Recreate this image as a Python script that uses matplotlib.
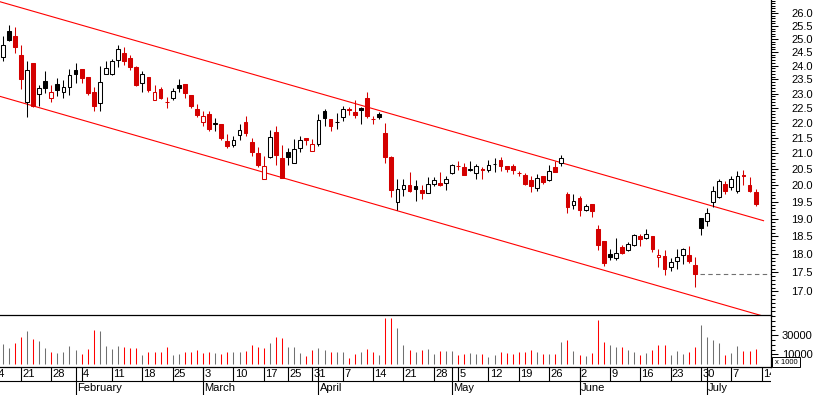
import matplotlib
matplotlib.use("Agg")
import matplotlib.pyplot as plt
from matplotlib.patches import Rectangle
from matplotlib.ticker import FixedLocator, FixedFormatter, NullFormatter
import numpy as np
import pandas as pd

plt.rcParams['font.family'] = ['Liberation Sans', 'DejaVu Sans']

# trading calendar, 2008 (closed 21 + 24 March and 1 May)
holidays = pd.to_datetime(['2008-03-21', '2008-03-24', '2008-05-01'])
all_days = pd.bdate_range('2008-01-14', '2008-07-14')
all_days = all_days[~all_days.isin(holidays)]
first_day = pd.Timestamp('2008-01-16')

# daily OHLC, 16 Jan - 11 Jul
opens = [24.32, 25.30, 25.10, 24.38, 22.71, 24.10, 23.00, 23.44, 22.83, 23.33,
         23.06, 23.24, 23.84, 23.87, 23.57, 23.05, 22.66, 23.70, 23.70, 24.22,
         24.47, 24.28, 23.96, 23.38, 23.57, 22.79, 23.16, 22.72, 22.86, 23.30,
         23.34, 22.94, 22.46, 22.03, 22.28, 21.97, 21.95, 21.40, 21.25, 21.60,
         22.01, 21.35, 20.99, 20.19, 20.89, 21.69, 20.84, 21.03, 20.70, 21.16,
         21.50, 21.06, 21.30, 22.40, 22.13, 22.01, 22.18, 22.46, 22.35, 22.50,
         22.85, 22.13, 22.29, 21.65, 20.89, 19.48, 19.88, 20.01, 19.96, 19.86,
         19.76, 20.04, 20.06, 20.07, 20.37, 20.60, 20.55, 20.48, 20.37, 20.50,
         20.45, 20.64, 20.79, 20.60, 20.60, 20.38, 20.32, 20.14, 19.91, 20.27,
         20.15, 20.55, 20.70, 19.72, 19.40, 19.61, 19.25, 19.42, 18.71, 18.36,
         17.99, 17.88, 18.20, 18.12, 18.24, 18.49, 18.46, 18.49, 17.91, 17.95,
         17.66, 17.81, 17.96, 17.96, 17.70, 19.01, 18.93, 19.48, 19.63, 20.04,
         19.93, 19.81, 20.30, 20.01, 19.79]
highs = [25.10, 25.53, 25.44, 24.76, 24.16, 24.10, 23.30, 23.80, 23.30, 23.54,
         23.48, 23.87, 24.08, 23.87, 23.60, 23.22, 23.98, 24.16, 24.23, 24.76,
         24.70, 24.38, 24.00, 23.80, 23.57, 23.30, 23.22, 22.88, 23.18, 23.51,
         23.34, 22.94, 22.63, 22.38, 22.40, 22.15, 21.95, 21.62, 21.54, 21.94,
         22.22, 21.49, 21.19, 20.92, 21.76, 21.87, 21.27, 21.16, 21.46, 21.54,
         21.50, 21.46, 22.29, 22.46, 22.13, 22.31, 22.57, 22.52, 22.77, 22.52,
         23.06, 22.22, 22.35, 21.98, 20.92, 20.17, 20.19, 20.40, 20.14, 20.00,
         20.24, 20.25, 20.39, 20.27, 20.66, 20.76, 20.70, 20.76, 20.66, 20.55,
         20.79, 20.85, 20.86, 20.60, 20.66, 20.42, 20.37, 20.27, 20.35, 20.29,
         20.61, 20.74, 20.93, 19.79, 19.72, 19.68, 19.44, 19.42, 18.81, 18.36,
         18.15, 18.46, 18.24, 18.33, 18.55, 18.55, 18.69, 18.49, 18.13, 18.10,
         17.89, 18.13, 18.17, 18.22, 17.93, 19.01, 19.30, 19.97, 20.19, 20.11,
         20.27, 20.42, 20.45, 20.25, 19.89]
lows = [24.17, 24.91, 24.47, 23.15, 22.18, 22.52, 22.57, 23.02, 22.71, 22.91,
        22.86, 22.94, 23.36, 23.36, 22.96, 22.41, 22.41, 23.70, 23.66, 23.96,
        24.02, 23.84, 23.27, 23.06, 23.05, 22.79, 22.82, 22.49, 22.79, 23.06,
        22.83, 22.49, 22.20, 21.89, 21.72, 21.72, 21.43, 21.16, 21.19, 21.43,
        21.54, 20.92, 20.55, 20.19, 20.85, 20.63, 20.22, 20.61, 20.70, 21.02,
        21.27, 21.06, 21.24, 21.89, 21.72, 21.79, 22.06, 22.26, 22.15, 21.95,
        22.15, 21.95, 22.12, 20.70, 19.63, 19.25, 19.68, 19.78, 19.53, 19.59,
        19.76, 19.97, 19.97, 19.86, 20.34, 20.45, 20.30, 20.42, 20.20, 20.20,
        20.39, 20.39, 20.42, 20.39, 20.34, 20.29, 20.01, 19.78, 19.83, 20.04,
        20.12, 20.40, 20.60, 19.15, 19.27, 19.09, 19.22, 19.05, 18.11, 17.68,
        17.83, 17.83, 17.99, 18.09, 18.22, 18.22, 18.41, 18.06, 17.66, 17.42,
        17.55, 17.59, 17.73, 17.75, 17.12, 18.53, 18.79, 19.33, 19.61, 19.74,
        19.86, 19.76, 20.01, 19.79, 19.38]
closes = [24.76, 24.95, 24.70, 23.52, 23.84, 22.57, 23.18, 23.20, 23.04, 23.12,
          23.24, 23.66, 23.69, 23.54, 23.02, 22.58, 23.42, 23.90, 24.16, 24.63,
          24.17, 23.96, 23.30, 23.70, 23.12, 23.04, 22.85, 22.71, 23.08, 23.18,
          23.02, 22.57, 22.26, 22.22, 21.79, 21.98, 21.50, 21.24, 21.43, 21.76,
          21.67, 21.02, 20.63, 20.60, 21.52, 20.93, 20.23, 20.89, 21.13, 21.43,
          21.41, 21.30, 22.09, 22.14, 21.89, 22.03, 22.46, 22.44, 22.26, 22.42,
          22.22, 22.11, 22.20, 20.86, 19.86, 19.88, 20.01, 19.83, 19.88, 19.76,
          20.04, 20.14, 20.00, 20.19, 20.63, 20.58, 20.32, 20.50, 20.58, 20.47,
          20.63, 20.65, 20.60, 20.50, 20.45, 20.37, 20.04, 19.96, 20.22, 20.09,
          20.42, 20.40, 20.84, 19.33, 19.52, 19.25, 19.37, 19.22, 18.24, 17.75,
          17.93, 18.04, 18.02, 18.27, 18.53, 18.43, 18.55, 18.13, 17.98, 17.60,
          17.77, 17.91, 18.13, 17.81, 17.45, 18.74, 19.15, 19.83, 20.11, 19.81,
          20.19, 20.29, 20.28, 19.83, 19.43]
# volume, x 1000
volume = [20500, 17000, 22300, 28200, 33900, 25800, 23700, 16300, 12500, 11800,
          12500, 18400, 14200, 10000, 16000, 35300, 34200, 18400, 16000, 18400,
          17400, 16300, 16300, 9000, 12800, 12800, 12100, 17400, 9300, 10700,
          12800, 12800, 14200, 11100, 12800, 11100, 10400, 12800, 12800, 12800,
          13500, 19500, 17700, 16300, 22300, 27900, 26900, 17400, 17400, 11100,
          7900, 14200, 16300, 14200, 12800, 12800, 12500, 6500, 10400, 12500,
          16000, 12500, 9000, 47900, 47900, 37400, 19500, 14600, 12500, 14600,
          15600, 10400, 13500, 13500, 13500, 9300, 10400, 11100, 10400, 10400,
          7200, 9300, 12500, 11400, 10400, 12500, 12500, 14600, 12500, 10400,
          10400, 10400, 23000, 24700, 13200, 9300, 8200, 11400, 45800, 23000,
          19800, 17700, 17700, 14200, 12800, 9300, 11400, 14600, 19800, 19800,
          9300, 13500, 10400, 12500, 17700, 40900, 28200, 25100, 21900, 9300,
          11400, 18800, 13500, 13500, 15600]

# trend channel anchors (trading-day index, price) and last support level
channel_x = [-0.45, 125.3]
upper_y = [26.46, 18.94]
lower_y = [22.90, 16.37]
support = 17.45
support_from = 114

RED = '#d40000'
day_pos = np.arange(len(all_days)) - list(all_days).index(first_day)
x = np.arange(len(closes))
o, h, l, c = map(np.array, (opens, highs, lows, closes))
prev = np.r_[o[0], c[:-1]]
down = c < prev
col = np.where(down, RED, 'black')

xlim = (-0.445, 126.53)
fig = plt.figure(figsize=(8.17, 3.95), dpi=100)
ax = fig.add_axes([0, 80 / 395, 771 / 817, 315 / 395])
axv = fig.add_axes([0, 28 / 395, 771 / 817, 52 / 395])
axd = fig.add_axes([0, 0, 771 / 817, 28 / 395])
ax.set_zorder(3)
axv.patch.set_visible(False)

# price panel
ax.vlines(x, l, h, colors=col, lw=0.75, zorder=2)
body_lo = np.minimum(o, c)
body_h = np.maximum(np.abs(c - o), 0.005)
face = np.where(c < o, col, 'white')
ax.bar(x, body_h, bottom=body_lo, width=0.62, color=face, edgecolor=col,
       linewidth=0.75, zorder=3)
ax.plot(channel_x, upper_y, color='red', lw=0.8, zorder=1)
ax.plot(channel_x, lower_y, color='red', lw=0.8, zorder=1)
ax.hlines(support, support_from + 0.8, xlim[1], colors='#707070', lw=0.8,
          linestyles=(0, (4, 3)))
ax.set_yscale('log')
ax.set_ylim(16.40, 26.53)
ax.set_xlim(*xlim)
ax.yaxis.tick_right()
major = np.arange(17.0, 26.01, 0.5)
ax.yaxis.set_major_locator(FixedLocator(major))
ax.yaxis.set_major_formatter(FixedFormatter(['%.1f' % v for v in major]))
ax.yaxis.set_minor_locator(FixedLocator(np.arange(16.5, 26.55, 0.1)))
ax.yaxis.set_minor_formatter(NullFormatter())
ax.tick_params(axis='y', which='major', length=5, width=0.75, pad=9.8, labelsize=8)
ax.tick_params(axis='y', which='minor', length=2.9, width=0.75)
ax.set_xticks([])
for s in ('top', 'left'):
    ax.spines[s].set_visible(False)
for s in ('right', 'bottom'):
    ax.spines[s].set_linewidth(0.9)

# volume panel
vcol = np.where(down, 'red', '#707070')
axv.vlines(x, 0, volume, colors=vcol, lw=0.75)
axv.set_xlim(*xlim)
axv.set_ylim(-3125, 51040)
axv.yaxis.tick_right()
axv.set_yticks([10000, 30000])
axv.set_yticklabels(['10000', '30000'])
axv.yaxis.set_minor_locator(FixedLocator(np.arange(0, 50001, 5000)))
axv.tick_params(axis='y', which='major', length=5, width=0.75, pad=2.7, labelsize=8)
axv.tick_params(axis='y', which='minor', length=2.9, width=0.75)
axv.set_xticks([])
for s in ('top', 'left'):
    axv.spines[s].set_visible(False)
for s in ('right', 'bottom'):
    axv.spines[s].set_linewidth(0.9)

# date axis: weeks on top row, months below
axd.set_xlim(*xlim)
axd.set_ylim(0, 2)
axd.axis('off')
axd.axhline(1, color='black', lw=0.8)
weeks = pd.Series(all_days).dt.isocalendar().week.values
for i, d in enumerate(all_days):
    if i == 0 or weeks[i] != weeks[i - 1]:
        axd.vlines(day_pos[i], 1, 2, colors='black', lw=0.8)
        axd.text(day_pos[i] + 0.2, 1.5, str(d.day), fontsize=8, ha='left',
                 va='center', clip_on=True)
    if i > 0 and d.month != all_days[i - 1].month:
        axd.vlines(day_pos[i], 0, 2, colors='black', lw=0.8)
        axd.text(day_pos[i] + 0.2, 0.5, d.strftime('%B'), fontsize=8,
                 ha='left', va='center', clip_on=True)

# "x 1000" box over the volume scale
fig.add_artist(Rectangle((772 / 817, 28 / 395), 28 / 817, 10.5 / 395,
                         transform=fig.transFigure, facecolor='white',
                         edgecolor='black', lw=0.7, zorder=10))
fig.text(786 / 817, 33 / 395, 'x 1000', fontsize=5.5, ha='center',
         va='center', zorder=11)

fig.savefig('out.png', dpi=100)
